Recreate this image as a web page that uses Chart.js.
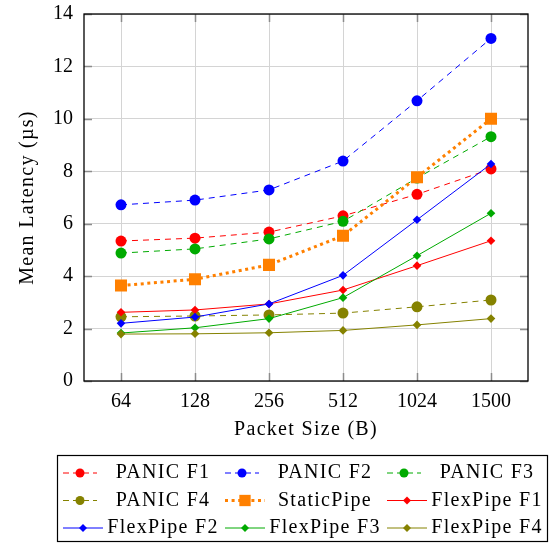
<!DOCTYPE html>
<html><head><meta charset="utf-8">
<script src="https://cdn.jsdelivr.net/npm/chart.js@4.4.1/dist/chart.umd.min.js"></script>
<style>html,body{margin:0;padding:0;background:#fff}</style>
</head><body>
<canvas id="c" width="558" height="548" style="width:558px;height:548px;display:block"></canvas>
<script>
const categories = ['64', '128', '256', '512', '1024', '1500'];
const yTicks = [0, 2, 4, 6, 8, 10, 12, 14];
const panicF1 = [5.34, 5.45, 5.68, 6.30, 7.12, 8.09];
const panicF2 = [6.72, 6.90, 7.29, 8.39, 10.69, 13.07];
const panicF3 = [4.88, 5.04, 5.42, 6.09, 7.74, 9.32];
const panicF4 = [2.45, 2.48, 2.52, 2.59, 2.83, 3.09];
const staticPipe = [3.64, 3.88, 4.43, 5.54, 7.77, 10.0];
const flexF1 = [2.62, 2.71, 2.94, 3.47, 4.40, 5.35];
const flexF2 = [2.20, 2.44, 2.94, 4.03, 6.15, 8.28];
const flexF3 = [1.83, 2.03, 2.38, 3.18, 4.78, 6.40];
const flexF4 = [1.79, 1.80, 1.84, 1.93, 2.14, 2.38];

const RED = '#ff0000', BLUE = '#0000ff', GREEN = '#00aa00', OLIVE = '#858200', ORANGE = '#ff8000';
const FONT = '"Liberation Serif", "Times New Roman", serif';

function ds(label, data, color, kind, i) {
  const base = {
    label, data, borderColor: color, backgroundColor: color,
    pointBackgroundColor: color, pointBorderColor: color, pointBorderWidth: 0,
    fill: false, tension: 0, order: -i, _kind: kind
  };
  if (kind === 'dashed') Object.assign(base, {borderWidth: 1, borderDash: [6, 5], pointStyle: 'circle', pointRadius: 5.5});
  if (kind === 'dotted') Object.assign(base, {borderWidth: 3, borderDash: [3, 3.6], pointStyle: 'rect', pointRadius: 8.5});
  if (kind === 'solid') Object.assign(base, {borderWidth: 1, pointStyle: 'rectRot', pointRadius: 4.3});
  base.pointHoverRadius = base.pointRadius;
  return base;
}

const datasets = [
  ds('PANIC F1', panicF1, RED, 'dashed', 0),
  ds('PANIC F2', panicF2, BLUE, 'dashed', 1),
  ds('PANIC F3', panicF3, GREEN, 'dashed', 2),
  ds('PANIC F4', panicF4, OLIVE, 'dashed', 3),
  ds('StaticPipe', staticPipe, ORANGE, 'dotted', 4),
  ds('FlexPipe F1', flexF1, RED, 'solid', 5),
  ds('FlexPipe F2', flexF2, BLUE, 'solid', 6),
  ds('FlexPipe F3', flexF3, GREEN, 'solid', 7),
  ds('FlexPipe F4', flexF4, OLIVE, 'solid', 8)
];

function marker(ctx, style, x, y, r, color) {
  ctx.save();
  ctx.fillStyle = color;
  ctx.beginPath();
  if (style === 'circle') ctx.arc(x, y, r, 0, Math.PI * 2);
  else if (style === 'rect') { const s = r * Math.SQRT1_2; ctx.rect(x - s, y - s, 2 * s, 2 * s); }
  else { ctx.moveTo(x, y - r); ctx.lineTo(x + r, y); ctx.lineTo(x, y + r); ctx.lineTo(x - r, y); ctx.closePath(); }
  ctx.fill();
  ctx.restore();
}

const framePlugin = {
  id: 'frame',
  beforeDatasetsDraw(chart) {
    const {ctx, chartArea: a, scales: {x, y}} = chart;
    ctx.save();
    ctx.strokeStyle = '#8c8c8c';
    ctx.lineWidth = 1.5;
    const L = 8;
    ctx.beginPath();
    categories.forEach((c, i) => {
      const px = Math.round(x.getPixelForValue(i)) + 0.5;
      ctx.moveTo(px, a.bottom); ctx.lineTo(px, a.bottom - L);
      ctx.moveTo(px, a.top); ctx.lineTo(px, a.top + L);
    });
    yTicks.forEach(v => {
      const py = Math.round(y.getPixelForValue(v)) + 0.5;
      ctx.moveTo(a.left, py); ctx.lineTo(a.left + L, py);
      ctx.moveTo(a.right, py); ctx.lineTo(a.right - L, py);
    });
    ctx.stroke();
    ctx.strokeStyle = '#000';
    ctx.lineWidth = 1.3;
    ctx.strokeRect(a.left, a.top, a.right - a.left, a.bottom - a.top);
    ctx.restore();
  },
  afterDraw(chart) {
    const {ctx, chartArea: a} = chart;
    ctx.save();
    ctx.fillStyle = '#000';
    ctx.font = '20px ' + FONT;
    ctx.letterSpacing = '1.3px';
    ctx.textAlign = 'center';
    ctx.textBaseline = 'middle';
    ctx.fillText('Packet Size (B)', (a.left + a.right) / 2, a.bottom + 49);
    ctx.save();
    ctx.translate(28, (a.top + a.bottom) / 2);
    ctx.rotate(-Math.PI / 2);
    ctx.fillText('Mean Latency (\u00b5s)', 0, 0);
    ctx.restore();

    // legend
    const bx = 57, bw = 490, by = a.bottom + 74, bh = 86;
    ctx.strokeStyle = '#000';
    ctx.lineWidth = 1.2;
    ctx.strokeRect(bx + 0.5, by + 0.5, bw, bh);
    chart.data.datasets.forEach((d, i) => {
      const col = i % 3, row = Math.floor(i / 3);
      const sx = bx + 6 + col * 162;
      const sy = by + 18 + row * 27.5;
      const w = d._kind === 'dashed' ? 34 : 40;
      ctx.save();
      ctx.strokeStyle = d.borderColor;
      ctx.lineWidth = d.borderWidth;
      ctx.setLineDash(d._kind === 'dashed' ? [6, 4] : d._kind === 'dotted' ? [3, 3.6] : []);
      ctx.beginPath();
      ctx.moveTo(sx, sy); ctx.lineTo(sx + w, sy);
      ctx.stroke();
      ctx.restore();
      const r = d._kind === 'dashed' ? 4.5 : d._kind === 'dotted' ? 8 : 4;
      marker(ctx, d.pointStyle, sx + w / 2, sy, r, d.borderColor);
      ctx.fillStyle = '#000';
      ctx.textAlign = 'center';
      ctx.fillText(d.label, bx + 106 + col * 162, sy);
    });
    ctx.restore();
  }
};

new Chart(document.getElementById('c'), {
  type: 'line',
  data: {labels: categories, datasets},
  plugins: [framePlugin],
  options: {
    responsive: false,
    animation: false,
    devicePixelRatio: 1,
    layout: {autoPadding: false, padding: {left: 0, top: 14, right: 30, bottom: 0}},
    plugins: {legend: {display: false}, tooltip: {enabled: false}},
    scales: {
      x: {
        type: 'category',
        offset: true,
        grid: {offset: false, color: '#d4d4d4', lineWidth: 1, drawTicks: false},
        border: {display: false},
        ticks: {color: '#000', font: {family: FONT, size: 20}, padding: 9, maxRotation: 0},
        afterFit: s => { s.height = 548 - 381; s.paddingLeft = 0; s.paddingRight = 0; }
      },
      y: {
        min: 0, max: 14,
        grid: {color: '#d4d4d4', lineWidth: 1, drawTicks: false},
        border: {display: false},
        ticks: {stepSize: 2, color: '#000', font: {family: FONT, size: 20}, padding: 11},
        afterFit: s => { s.width = 84; s.paddingTop = 0; s.paddingBottom = 0; }
      }
    }
  }
});
</script>
</body></html>
